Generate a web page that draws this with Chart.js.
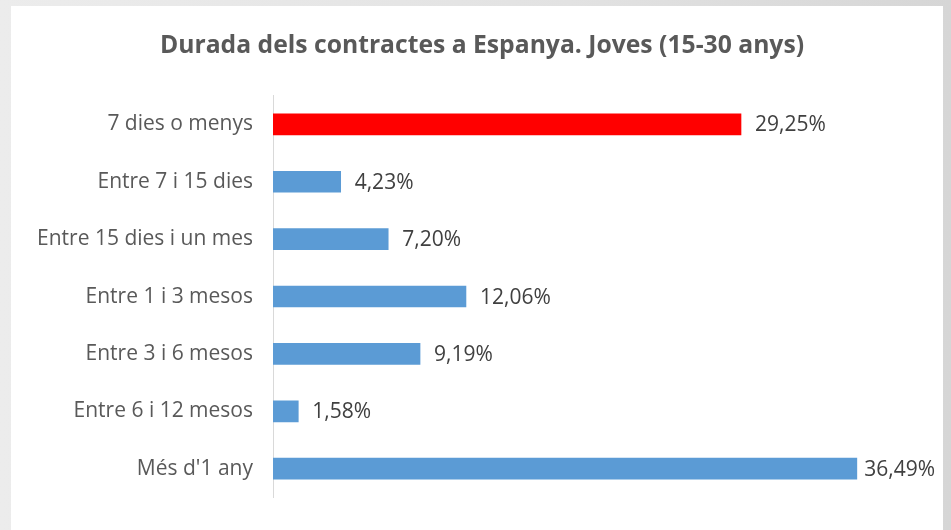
<!DOCTYPE html>
<html>
<head>
<meta charset="utf-8">
<script src="https://cdn.jsdelivr.net/npm/chart.js@4"></script>
<style>
  html, body { margin: 0; padding: 0; }
  body {
    width: 951px; height: 530px; overflow: hidden; position: relative;
    background: linear-gradient(to right, #ececec, #e2e2e2 60%, #d6d6d6);
  }
  #panel {
    position: absolute; left: 11px; top: 6px; width: 932px; height: 524px;
    background: #ffffff;
  }
</style>
</head>
<body>
<div id="panel"><canvas id="chart" width="932" height="524"></canvas></div>
<script>
// categories from top to bottom
const categories = ['7 dies o menys', 'Entre 7 i 15 dies', 'Entre 15 dies i un mes', 'Entre 1 i 3 mesos', 'Entre 3 i 6 mesos', 'Entre 6 i 12 mesos', "Més d'1 any"];
// percentage of contracts
const values = [29.25, 4.23, 7.20, 12.06, 9.19, 1.58, 36.49];
// first bar is highlighted
const barColors = ['#ff0000', '#5b9bd5', '#5b9bd5', '#5b9bd5', '#5b9bd5', '#5b9bd5', '#5b9bd5'];

const chartTitle = 'Durada dels contractes a Espanya. Joves (15-30 anys)';
const fontName = '"Open Sans", sans-serif';

// write value next to each bar end
const valueLabels = {
    id: 'valueLabels',
    afterLayout(chart) {
        // let the long category labels use the left padding too
        chart.scales.y.left = 0;
    },
    afterDatasetsDraw(chart) {
        const ctx = chart.ctx;
        const meta = chart.getDatasetMeta(0);
        ctx.save();
        ctx.font = '21px ' + fontName;
        ctx.fillStyle = '#404040';
        ctx.textAlign = 'left';
        ctx.textBaseline = 'middle';
        meta.data.forEach((bar, i) => {
            const txt = values[i].toFixed(2).replace('.', ',') + '%';
            // keep label inside the panel
            let x = bar.x + 14;
            const w = ctx.measureText(txt).width;
            if (x + w > chart.width - 8) x = chart.width - 8 - w;
            ctx.fillText(txt, x, bar.y + 1);
        });
        ctx.restore();
    }
};

const myChart = document.getElementById('chart');

let chart = new Chart(myChart, {
    type: 'bar',
    data: {
        labels: categories,
        datasets: [{
            data: values,
            backgroundColor: barColors,
            barThickness: 21
        }]
    },
    options: {
        indexAxis: 'y',
        responsive: false,
        animation: false,
        layout: {
            padding: { left: 40, right: 30, bottom: 18 }
        },
        plugins: {
            legend: { display: false },
            tooltip: { enabled: false },
            title: {
                display: true,
                text: chartTitle,
                color: '#595959',
                font: { family: fontName, size: 24.7, weight: 'bold' },
                padding: { top: 25, bottom: 35 }
            }
        },
        scales: {
            x: {
                display: false,
                min: 0,
                max: 40
            },
            y: {
                afterFit: (axis) => { axis.width = 222; },
                grid: { display: false, drawTicks: false },
                border: { display: true, color: '#d9d9d9', width: 1 },
                ticks: {
                    color: '#595959',
                    padding: 20,
                    font: { family: fontName, size: 21 }
                }
            }
        }
    },
    plugins: [valueLabels]
});
</script>
</body>
</html>
